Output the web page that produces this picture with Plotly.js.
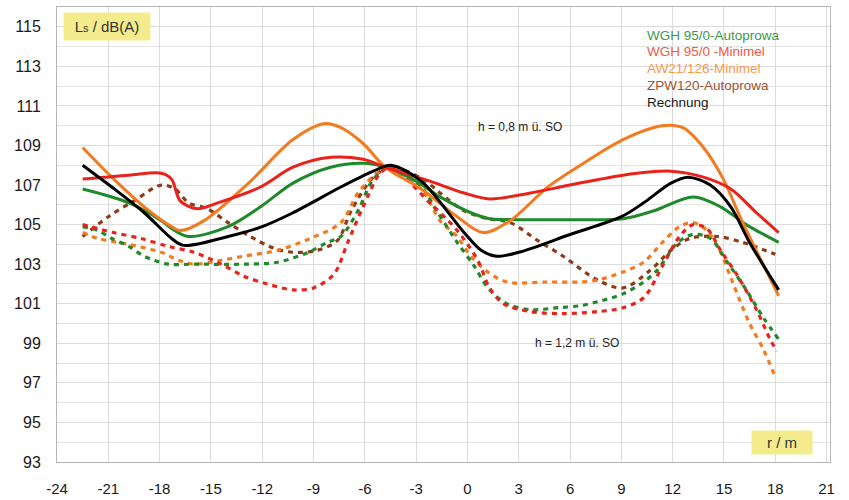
<!DOCTYPE html>
<html><head><meta charset="utf-8">
<script src="https://cdn.plot.ly/plotly-3.0.1.min.js"></script>
<style>html,body{margin:0;padding:0;background:#fff}#chart{width:849px;height:500px}</style>
</head><body><div id="chart"></div>
<script>
// Solid curves: h = 0,8 m ü. SO
const blackX = [-22.5,-20.8,-18.9,-17.3,-16.6,-14,-12,-10.2,-7.4,-5.5,-4.5,-2.7,-0.2,0.8,1.7,3,6,9,10.3,11.9,12.9,14.2,15.4,16.5,18.2];
const blackY = [108.0,106.9,105.6,104.3,103.95,104.4,104.9,105.6,106.9,107.7,108.0,107.2,104.6,103.7,103.4,103.6,104.5,105.4,106.1,107.1,107.4,107.0,105.9,104.1,101.7];
const greenX = [-22.5,-19.8,-17.9,-17.3,-16.3,-14,-12.1,-10.2,-8,-6.1,-4.8,-3,-1.6,0.2,1.3,3,6,9.1,10.9,13.2,14.8,16.3,18.2];
const greenY = [106.8,106.1,105.2,104.8,104.4,104.9,105.9,107.1,107.9,108.1,107.9,107.2,106.4,105.6,105.3,105.25,105.25,105.3,105.7,106.4,105.9,105.0,104.1];
const redX = [-22.5,-19.8,-17.9,-17.3,-16.8,-15.8,-14.6,-12.1,-10.2,-8,-6.1,-4.8,-2.2,-0.2,1.3,3.7,6,9.1,11.9,13.8,15.4,16.9,18.2];
const redY = [107.3,107.5,107.6,107.3,106.2,105.8,106.1,106.9,107.9,108.4,108.3,107.9,107.2,106.6,106.3,106.6,107.0,107.5,107.7,107.4,106.8,105.6,104.6];
const orangeX = [-22.5,-20.8,-18.9,-17.3,-16.8,-15.4,-12.8,-10.2,-8.4,-7.4,-6.1,-4.8,-2.7,-0.6,0.9,2.5,4.7,6.6,9.1,11.4,12.6,13.8,14.9,16.1,18.2];
const orangeY = [108.9,107.4,105.9,104.9,104.7,105.2,107.1,109.3,110.1,109.9,109.1,107.9,106.8,105.4,104.6,105.2,106.9,108.0,109.3,110.0,109.9,108.9,107.4,105.1,101.4];
// Dotted curves: h = 1,2 m ü. SO
const brownDX = [-22.5,-21,-19.5,-17.9,-17.1,-16.3,-15.2,-14,-12.7,-11.3,-10.2,-8.8,-7.6,-6.8,-5.5,-4.5,-2.6,-1.6,-0.2,1.2,2.5,4.1,5.6,7.6,9.1,10.7,11.9,13,14.6,16.1,18];
const brownDY = [104.4,105.4,106.2,107.0,106.8,106.1,105.8,105.1,104.4,103.8,103.6,103.7,104.2,105.7,107.4,107.9,107.3,106.6,105.7,105.3,105.1,104.2,103.4,102.2,101.8,102.7,103.7,104.3,104.4,104.1,103.5];
const greenDX = [-22.5,-21.6,-20.8,-19.8,-18.9,-17.5,-16,-13.1,-11.1,-9.3,-8.2,-7.4,-6.4,-5.5,-4.5,-2.7,-1.8,-0.6,0.4,1.2,2.3,3.7,5.3,6.6,7.6,9.1,10.3,11.1,12.3,13.2,14.2,15.2,16.3,17.3,18.2];
const greenDY = [104.9,104.7,104.3,103.9,103.4,103.0,103.0,103.0,103.1,103.6,104.1,104.4,105.7,107.3,107.9,106.9,105.7,104.1,102.9,101.8,101.0,100.7,100.8,100.9,101.1,101.5,102.1,102.7,104.1,104.5,104.3,103.1,101.7,100.3,99.2];
const redDX = [-22.5,-20.7,-19.1,-17.5,-16,-14.4,-13.1,-11.7,-10.2,-9,-7.8,-7,-6.1,-5.1,-4.5,-2.2,-0.6,0.6,1.3,2.1,3.7,5.6,7.6,9.1,10.3,11.4,12.4,13.2,14,14.8,15.8,16.9,17.7,18.1];
const redDY = [105.0,104.6,104.3,103.9,103.6,103.0,102.4,102.0,101.7,101.8,102.5,104.1,105.9,107.6,107.9,106.1,104.7,103.2,101.8,101.0,100.6,100.5,100.6,100.8,101.3,102.9,104.4,105.0,104.8,103.7,102.4,100.7,99.2,98.6];
const orangeDX = [-22.5,-21.6,-19.8,-17.9,-16.9,-16,-14.4,-13.1,-11.1,-9.2,-7.4,-6.4,-5.3,-4.5,-2.7,-1.6,-0.6,0.2,1.2,2.3,4.7,6.6,7.6,9.1,10.3,11.4,12.4,13.2,14,14.8,15.5,16.5,17.3,18];
const orangeDY = [104.6,104.3,104.0,103.6,103.2,103.0,103.2,103.4,103.7,104.3,105.1,106.6,107.6,107.9,106.8,105.2,104.4,103.4,102.6,102.1,102.1,102.1,102.2,102.6,103.1,104.1,104.9,105.1,104.7,103.6,102.1,100.0,98.7,97.3];

const xTicks = [-24,-21,-18,-15,-12,-9,-6,-3,0,3,6,9,12,15,18,21];
const xTickText = ["-24","-21","-18","-15","-12","-9","-6","-3","0","3","6","9","12","15","18","21"];
const yTicks = [93,95,97,99,101,103,105,107,109,111,113,115];

const seriesNames = ["WGH 95/0-Autoprowa","WGH 95/0 -Minimel","AW21/126-Minimel","ZPW120-Autoprowa","Rechnung"];
const C = {green:"#1f8a2c", red:"#e8231c", orange:"#f47a1f", brown:"#8e3b1b", black:"#000000"};
const legendColors = ["#3d9a48","#ee5a44","#f5994f","#a0532e","#1a1a1a"];

function solid(x,y,c,name){return {x,y,name,type:'scatter',mode:'lines',line:{color:c,width:3,shape:'spline',smoothing:0.9},showlegend:false,hoverinfo:'skip'};}
function dotted(x,y,c,name){return {x,y,name,type:'scatter',mode:'lines',line:{color:c,width:3.2,shape:'spline',smoothing:0.9,dash:'5px,5px'},showlegend:false,hoverinfo:'skip'};}

const traces = [
  dotted(brownDX,brownDY,C.brown,seriesNames[3]),
  dotted(orangeDX,orangeDY,C.orange,seriesNames[2]),
  dotted(greenDX,greenDY,C.green,seriesNames[0]),
  dotted(redDX,redDY,C.red,seriesNames[1]),
  solid(greenX,greenY,C.green,seriesNames[0]),
  solid(orangeX,orangeY,C.orange,seriesNames[2]),
  solid(redX,redY,C.red,seriesNames[1]),
  solid(blackX,blackY,C.black,seriesNames[4])
];

const FONT = "Liberation Sans, Arial, sans-serif";
const annotations = [
  {x:-21.1,y:115,xref:'x',yref:'y',text:"L<span style='font-size:11px'>s</span> / dB(A)",showarrow:false,bgcolor:'#f4ec8c',width:80,height:21,borderpad:3,font:{family:FONT,size:15,color:'#333'}},
  {x:18.4,y:94.0,xref:'x',yref:'y',text:"r / m",showarrow:false,bgcolor:'#f4ec8c',width:54,height:17,borderpad:3,font:{family:FONT,size:15,color:'#333'}},
  {x:3.1,y:109.95,xref:'x',yref:'y',text:"h = 0,8 m ü. SO",showarrow:false,font:{family:FONT,size:12,color:'#222'}},
  {x:6.4,y:99.0,xref:'x',yref:'y',text:"h = 1,2 m ü. SO",showarrow:false,font:{family:FONT,size:12,color:'#222'}}
];
const legY = [114.55,113.74,112.9,112.05,111.15];
seriesNames.forEach((n,i)=>annotations.push({x:10.4,y:legY[i],xref:'x',yref:'y',xanchor:'left',text:n,showarrow:false,font:{family:FONT,size:13.5,color:legendColors[i]}}));

const layout = {
  width:849,height:500,
  margin:{l:57,r:19,t:7,b:38},
  paper_bgcolor:'#ffffff',plot_bgcolor:'#ffffff',
  showlegend:false,
  xaxis:{range:[-24,21.2],tickvals:xTicks,ticktext:xTickText,showgrid:true,gridcolor:'#dcdcdc',gridwidth:1,
    zeroline:false,showline:true,linecolor:'#b5b5b5',linewidth:1,mirror:true,
    ticks:'outside',ticklen:13,tickcolor:'rgba(0,0,0,0)',tickfont:{family:FONT,size:15,color:'#1a1a1a'}},
  yaxis:{range:[93,116],tickvals:yTicks,showgrid:true,gridcolor:'#dcdcdc',gridwidth:1,
    minor:{dtick:1,tick0:93,showgrid:true,gridcolor:'#e4e4e4',gridwidth:1},
    zeroline:false,showline:true,linecolor:'#b5b5b5',linewidth:1,mirror:true,
    ticks:'outside',ticklen:12,tickcolor:'rgba(0,0,0,0)',tickfont:{family:FONT,size:16,color:'#1a1a1a'}},
  annotations
};
Plotly.newPlot('chart',traces,layout,{staticPlot:true,displayModeBar:false});
</script></body></html>
